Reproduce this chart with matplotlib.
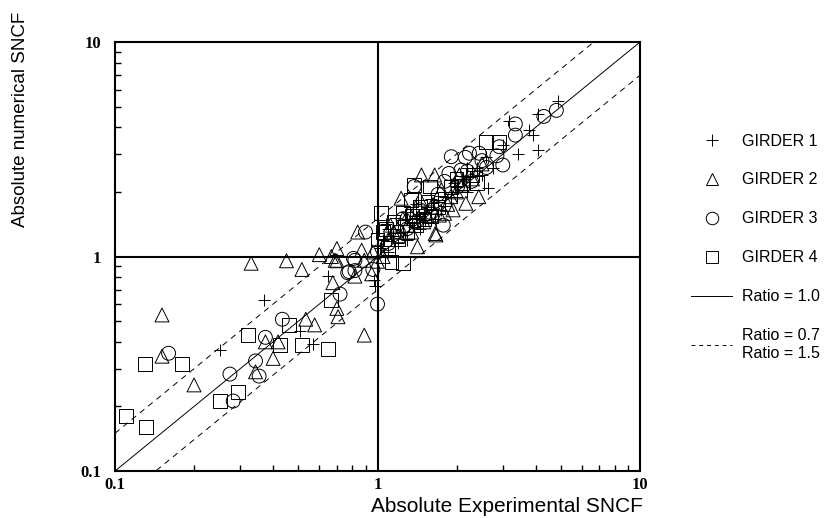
import matplotlib
matplotlib.use("Agg")
import matplotlib.pyplot as plt
from matplotlib.lines import Line2D
from matplotlib.ticker import FixedLocator, LogLocator, NullFormatter

# experimental (x) vs numerical (y) SNCF per girder
girder1_x = [0.252, 0.37, 0.505, 0.567, 0.647, 0.98, 0.97,
             4.85, 4.1, 3.18, 3.78, 3.92, 4.1, 3.44, 2.63, 3.0, 2.75,
             1.05, 1.1, 1.15, 1.2, 1.25, 1.3, 1.35, 1.4, 1.45, 1.5, 1.55, 1.6,
             1.7, 1.8, 1.9, 2.0, 2.1, 2.2, 2.3, 2.4, 2.5, 1.0, 1.02, 1.1, 1.2,
             1.3, 1.45, 1.65, 1.75, 2.0, 1.6, 1.4, 2.2, 2.6,
             1.08, 1.18, 1.28, 1.38, 1.52, 1.62, 1.95, 2.25]
girder1_y = [0.366, 0.63, 0.45, 0.39, 0.81, 0.73, 0.78,
             5.3, 4.6, 4.3, 3.9, 3.68, 3.15, 3.0, 2.08, 3.3, 2.6,
             1.2, 1.35, 1.25, 1.4, 1.3, 1.5, 1.45, 1.55, 1.5, 1.6, 1.7, 1.65,
             1.8, 1.9, 2.0, 2.1, 2.3, 2.0, 2.5, 2.6, 2.4, 1.0, 1.1, 1.05, 1.15,
             1.2, 1.35, 1.5, 1.65, 1.9, 1.85, 1.75, 2.6, 2.9,
             1.42, 1.52, 1.62, 1.38, 1.48, 1.78, 2.2, 2.35]

girder2_x = [0.33, 0.45, 0.515, 0.60, 0.667, 0.70, 0.70, 0.151, 0.151, 0.20,
             0.374, 0.418, 0.40, 0.343, 0.533, 0.576, 0.676, 0.70, 0.707, 0.89,
             0.84, 0.87, 0.89, 0.69, 0.95, 0.82, 1.23, 1.47, 1.65, 1.42, 1.67,
             1.80, 1.72, 1.94, 2.17, 2.43, 1.66, 1.1, 1.2, 1.3, 1.35, 1.5, 1.6,
             1.9, 2.0, 2.1, 2.3, 1.0, 1.05, 0.96, 1.15, 1.25, 1.55, 1.85, 2.5,
             1.12, 1.32, 1.45, 1.75, 2.05]
girder2_y = [0.93, 0.955, 0.87, 1.02, 1.0, 1.09, 0.955, 0.534, 0.343, 0.252,
             0.40, 0.40, 0.335, 0.29, 0.51, 0.48, 0.755, 0.573, 0.524, 0.43,
             1.3, 1.07, 0.96, 0.96, 0.83, 0.81, 1.87, 2.4, 2.4, 1.11, 1.26,
             1.59, 1.56, 1.65, 1.77, 1.9, 1.28, 1.2, 1.25, 1.4, 1.3, 1.45, 1.7,
             1.9, 2.0, 2.15, 2.3, 0.95, 1.0, 1.05, 1.3, 1.5, 1.55, 1.75, 2.7,
             1.4, 1.6, 1.85, 2.05, 2.4]

girder3_x = [0.16, 0.274, 0.282, 0.343, 0.354, 0.374, 0.434, 0.72, 0.77, 1.0,
             0.82, 0.78, 0.9, 0.81, 0.82, 0.96, 1.38, 1.78, 1.91, 2.16, 2.24,
             2.44, 3.0, 3.35, 3.35, 4.3, 4.8, 2.91, 2.85, 1.87, 2.08, 1.80,
             2.02, 2.28, 1.2, 1.3, 1.4, 1.5, 1.6, 1.1, 1.0, 2.5, 2.6, 2.2,
             1.25, 1.45, 1.7]
girder3_y = [0.354, 0.283, 0.212, 0.326, 0.277, 0.42, 0.51, 0.668, 0.84, 0.60,
             0.96, 0.85, 1.3, 0.98, 0.86, 0.87, 2.12, 1.4, 2.92, 2.9, 3.03,
             3.03, 2.67, 4.15, 3.68, 4.5, 4.8, 3.25, 2.95, 2.44, 2.53, 2.24,
             2.12, 2.24, 1.3, 1.35, 1.45, 1.55, 1.6, 1.15, 1.05, 2.8, 2.6, 2.5,
             1.5, 1.65, 1.95]

girder4_x = [0.11, 0.131, 0.13, 0.18, 0.252, 0.293, 0.32, 0.424, 0.46, 0.515,
             0.647, 0.667, 1.03, 1.05, 1.25, 1.13, 1.34, 1.58, 2.59, 2.91,
             1.38, 1.0, 1.1, 1.2, 1.3, 1.4, 1.5, 1.6, 1.7, 1.9, 2.1, 2.3,
             1.15, 1.25, 1.45, 2.0, 2.4, 1.08, 1.35, 1.55, 1.8]
girder4_y = [0.181, 0.161, 0.315, 0.315, 0.212, 0.233, 0.43, 0.387, 0.48, 0.387,
             0.37, 0.63, 1.59, 1.3, 0.93, 0.94, 1.83, 2.12, 3.43, 3.43,
             2.16, 1.2, 1.1, 1.2, 1.3, 1.4, 1.5, 1.55, 1.7, 2.1, 2.2, 2.4,
             1.45, 1.6, 1.7, 2.3, 2.2, 1.35, 1.55, 1.8, 1.85]

ratio_range = [0.1, 10.0]
ratio_solid = 1.0
ratio_dashed = [0.7, 1.5]

girder_labels = ["GIRDER 1", "GIRDER 2", "GIRDER 3", "GIRDER 4"]
girder_markers = ["+", "^", "o", "s"]

SANS = ["Liberation Sans", "DejaVu Sans"]
SERIF = ["Liberation Serif", "DejaVu Serif"]

fig = plt.figure(figsize=(8.25, 5.18), dpi=100)
ax = fig.add_axes([0.1394, 0.0907, 0.6364, 0.8282])
ax.set_xscale("log")
ax.set_yscale("log")
ax.set_xlim(0.1, 10)
ax.set_ylim(0.1, 10)

# reference lines
ax.plot(ratio_range, [v * ratio_solid for v in ratio_range], color="black", lw=0.7)
for r in ratio_dashed:
    ax.plot(ratio_range, [v * r for v in ratio_range], color="black", lw=0.7,
            linestyle=(0, (6, 5)))

ax.axvline(1.0, color="black", lw=1.5)
ax.axhline(1.0, color="black", lw=1.5)

series = [(girder1_x, girder1_y), (girder2_x, girder2_y),
          (girder3_x, girder3_y), (girder4_x, girder4_y)]
for (xs, ys), mk in zip(series, girder_markers):
    if mk == "+":
        ax.scatter(xs, ys, marker="+", s=80, c="black", linewidths=0.7, zorder=3)
    else:
        ax.scatter(xs, ys, marker=mk, s=100, facecolors="none",
                   edgecolors="black", linewidths=0.7, zorder=3)

for side in ax.spines.values():
    side.set_linewidth(1.5)

ax.xaxis.set_major_locator(FixedLocator([0.1, 1, 10]))
ax.yaxis.set_major_locator(FixedLocator([0.1, 1, 10]))
ax.xaxis.set_minor_locator(LogLocator(base=10, subs=range(2, 10)))
ax.yaxis.set_minor_locator(LogLocator(base=10, subs=range(2, 10)))
ax.xaxis.set_minor_formatter(NullFormatter())
ax.yaxis.set_minor_formatter(NullFormatter())
ax.set_xticklabels(["0.1", "1", "10"])
ax.set_yticklabels(["0.1", "1", "10"])
ax.tick_params(which="major", length=0, pad=10)
ax.tick_params(axis="x", which="major", pad=4)
ax.tick_params(which="minor", direction="in", length=4, width=1.0)
for lab in ax.get_xticklabels() + ax.get_yticklabels():
    lab.set_fontfamily(SERIF)
    lab.set_fontweight("bold")
    lab.set_fontsize(12)

fig.text(0.779, 0.004, "Absolute Experimental SNCF", ha="right", va="bottom",
         fontsize=15, family=SANS)
fig.text(0.025, 0.77, "Absolute numerical SNCF", ha="center", va="center",
         rotation=90, fontsize=13.5, family=SANS)

handles = [
    Line2D([0], [0], marker="+", color="black", lw=0, markersize=9, markeredgewidth=0.7),
    Line2D([0], [0], marker="^", color="black", lw=0, markersize=9,
           markerfacecolor="none", markeredgewidth=0.7),
    Line2D([0], [0], marker="o", color="black", lw=0, markersize=9,
           markerfacecolor="none", markeredgewidth=0.7),
    Line2D([0], [0], marker="s", color="black", lw=0, markersize=9,
           markerfacecolor="none", markeredgewidth=0.7),
    Line2D([0], [0], color="black", lw=0.7),
    Line2D([0], [0], color="black", lw=0.7, linestyle=(0, (4, 4))),
]
labels = girder_labels + [f"Ratio = {ratio_solid:.1f}",
                          "\n".join(f"Ratio = {r:.1f}" for r in ratio_dashed)]
leg = fig.legend(handles, labels, loc="upper left", bbox_to_anchor=(0.82, 0.77),
                 frameon=False, prop={"family": SANS, "size": 11.5},
                 labelspacing=1.5, handlelength=2.6, handletextpad=0.6)

fig.savefig("out.png", dpi=100)
